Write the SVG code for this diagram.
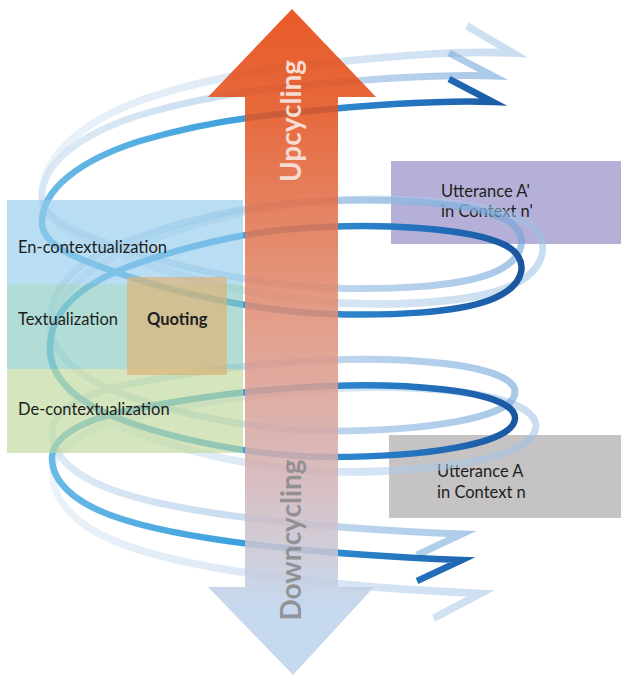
<svg xmlns="http://www.w3.org/2000/svg" xmlns:xlink="http://www.w3.org/1999/xlink" width="621" height="676" viewBox="0 0 621 676">
  <style>
    .lbl { font-family: Lato, "Liberation Sans", sans-serif; font-size: 16.5px; fill: #1e1e1e; }
    .bold { font-weight: bold; }
    .big { font-family: Lato, "Liberation Sans", sans-serif; font-size: 28px; font-weight: bold; }
    .main { fill: none; stroke: url(#gMain); stroke-width: 6.5; stroke-linejoin: miter; stroke-miterlimit: 12; }
    .fade1 { fill: none; stroke: url(#gF1); stroke-opacity: 0.6; stroke-width: 7; stroke-linejoin: miter; stroke-miterlimit: 12; }
    .fade2 { fill: none; stroke: url(#gF2); stroke-opacity: 0.55; stroke-width: 6.5; stroke-linejoin: miter; stroke-miterlimit: 12; }
    .lbox { opacity: 0.65; }
  </style>
  <defs>
    <linearGradient id="gMain" gradientUnits="userSpaceOnUse" x1="40" y1="0" x2="520" y2="0">
      <stop offset="0" stop-color="#6bbbe6"/>
      <stop offset="0.45" stop-color="#3a9edc"/>
      <stop offset="0.75" stop-color="#2577c2"/>
      <stop offset="1" stop-color="#1a55a0"/>
    </linearGradient>
    <linearGradient id="gF1" gradientUnits="userSpaceOnUse" x1="40" y1="0" x2="520" y2="0">
      <stop offset="0" stop-color="#c9deef"/>
      <stop offset="1" stop-color="#6ea3d9"/>
    </linearGradient>
    <linearGradient id="gF2" gradientUnits="userSpaceOnUse" x1="40" y1="0" x2="520" y2="0">
      <stop offset="0" stop-color="#dbe8f5"/>
      <stop offset="1" stop-color="#9dc1e4"/>
    </linearGradient>
    <linearGradient id="gShaft" gradientUnits="userSpaceOnUse" x1="0" y1="9" x2="0" y2="675">
      <stop offset="0" stop-color="#e54208"/>
      <stop offset="0.15" stop-color="#e3521e"/>
      <stop offset="0.45" stop-color="#e08d74"/>
      <stop offset="0.66" stop-color="#d6acab"/>
      <stop offset="0.83" stop-color="#c8c9d9"/>
      <stop offset="0.9" stop-color="#bdd3ec"/>
      <stop offset="1" stop-color="#bdd3ec"/>
    </linearGradient>
    <path id="helix" d="M 417,581 L 462,560 C 360,556 190,545 110,515 C 75,502 52,482 52,458 C 52,438 80,420 130,410 C 180,400 230,392 292,388 C 400,380 515,390 515,418 C 515,445 420,457 330,457 C 260,457 170,440 110,415 C 65,395 48,370 50,345 C 52,310 80,285 130,266 C 180,248 240,233 292,229 C 380,222 470,228 505,245 C 530,258 528,285 490,300 C 455,313 390,316 330,314 C 270,312 190,297 130,277 C 80,260 45,248 42,225 C 40,190 80,160 140,141 C 190,126 240,117 300,112 C 380,104 440,100 493,102 L 449,79"/>
  </defs>

  <rect width="621" height="676" fill="#ffffff"/>

  <g id="utterance-a-prime">
    <rect x="391" y="161" width="230" height="83" fill="#b5b0d8"/>
    <text class="lbl" x="441" y="197">Utterance A'</text>
    <text class="lbl" x="441" y="217">in Context n'</text>
  </g>
  <g id="utterance-a">
    <rect x="389" y="435" width="232" height="83" fill="#c5c3c3"/>
    <text class="lbl" x="437" y="477">Utterance A</text>
    <text class="lbl" x="437" y="498">in Context n</text>
  </g>

  <g id="connectors">
    <use xlink:href="#helix" href="#helix" class="fade2" transform="translate(40,374) scale(1.044,1.18) translate(-40,-374)"/>
    <use xlink:href="#helix" href="#helix" class="fade1" transform="translate(0,-26)"/>
    <use xlink:href="#helix" href="#helix" class="main"/>
  </g>

  <g id="en-contextualization">
    <rect class="lbox" x="7" y="200" width="236" height="84" fill="#94cbeb"/>
    <text class="lbl" x="18" y="253">En-contextualization</text>
  </g>
  <g id="textualization">
    <rect class="lbox" x="7" y="284" width="236" height="85" fill="#89cbc1"/>
    <text class="lbl" x="18" y="325">Textualization</text>
  </g>
  <g id="de-contextualization">
    <rect class="lbox" x="7" y="369" width="236" height="84" fill="#bed99b"/>
    <text class="lbl" x="18" y="415">De-contextualization</text>
  </g>
  <g id="quoting">
    <rect class="lbox" x="127" y="277" width="100" height="98" fill="#e0b070"/>
    <text class="lbl bold" x="147" y="325">Quoting</text>
  </g>

  <g id="cycle-arrow">
    <polygon points="292,9 376,97 338,97 338,587 374,587 293,675 208,587 245,587 245,97 208,97" fill="url(#gShaft)" opacity="0.87"/>
    <text class="big" transform="translate(301,121) rotate(-90)" text-anchor="middle" fill="#f6dcd2">Upcycling</text>
    <text class="big" transform="translate(301,540) rotate(-90)" text-anchor="middle" fill="#8a8a8c" fill-opacity="0.9">Downcycling</text>
  </g>
</svg>
